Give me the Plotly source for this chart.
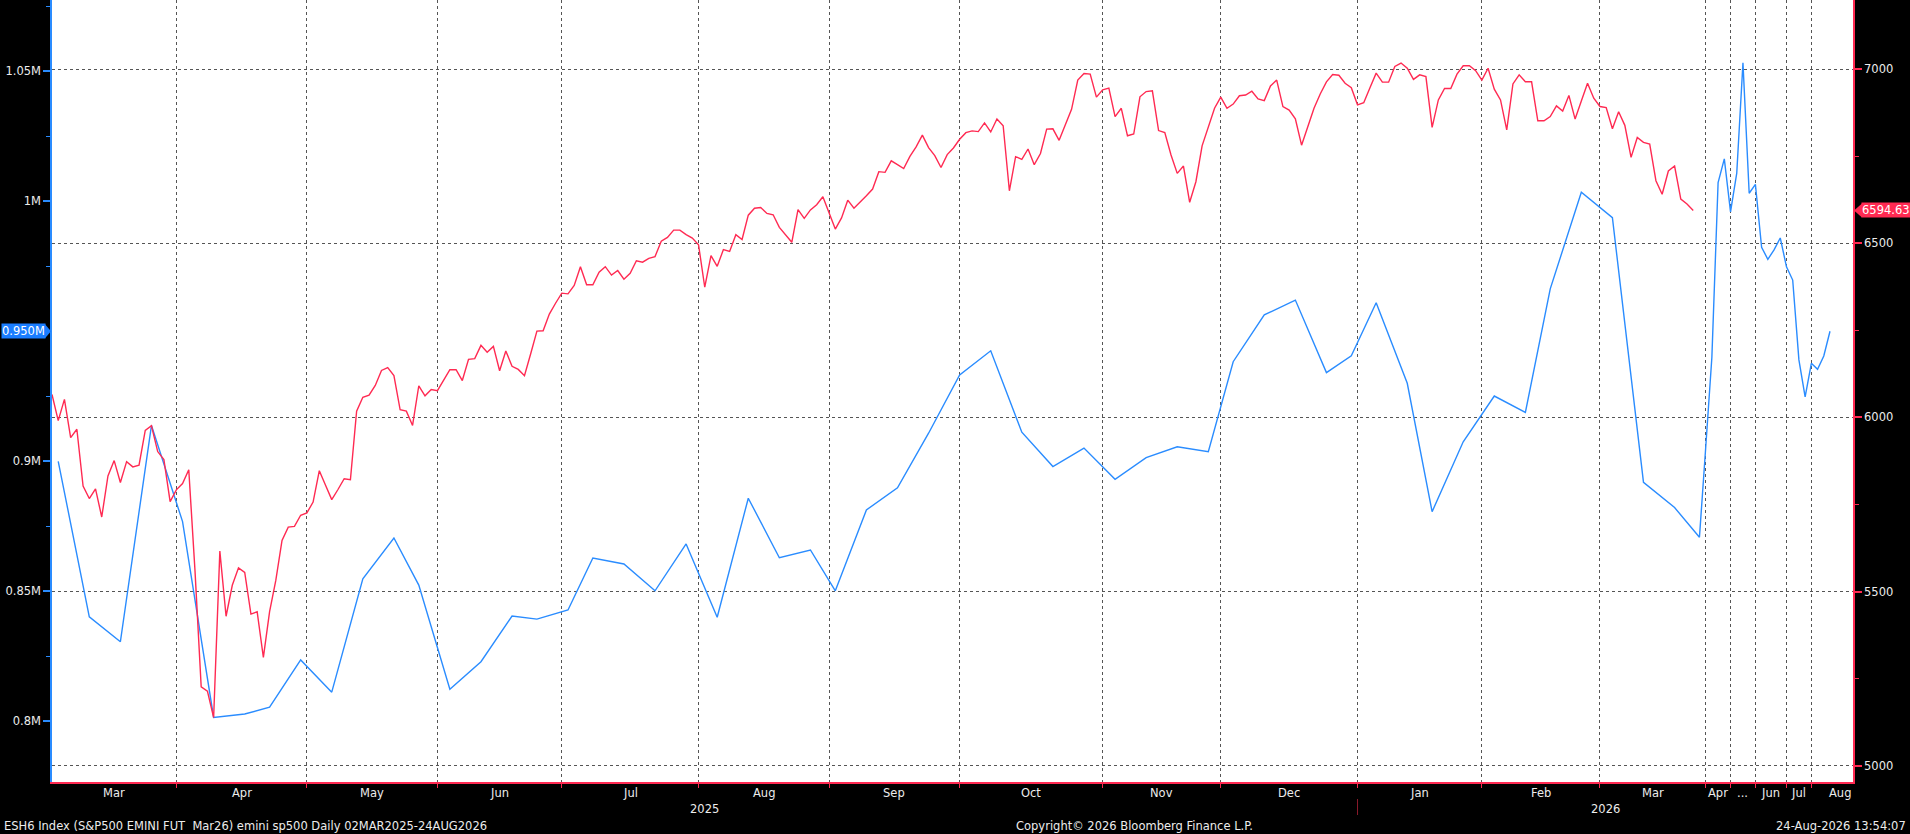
import plotly.graph_objects as go
import pandas as pd

# ---------------- data ----------------
holidays = ["2025-04-18", "2025-05-26", "2025-06-19", "2025-07-04", "2025-09-01",
            "2025-11-27", "2025-12-25", "2026-01-01", "2026-01-19", "2026-02-16"]
red_dates = [d.strftime("%Y-%m-%d") for d in pd.bdate_range("2025-03-03", "2026-03-20")
             if d.strftime("%Y-%m-%d") not in holidays]

red_values = [
    6066, 5991, 6052, 5942, 5966, 5803, 5767, 5795, 5714, 5832,
    5876, 5813, 5873, 5858, 5863, 5963, 5976, 5902, 5879, 5758,
    5792, 5810, 5850, 5560, 5226, 5214, 5138, 5616, 5429, 5518,
    5568, 5555, 5435, 5442, 5311, 5442, 5532, 5647, 5685, 5687,
    5719, 5726, 5757, 5847, 5805, 5764, 5793, 5824, 5821, 6018,
    6058, 6064, 6092, 6135, 6143, 6120, 6022, 6018, 5977, 6091,
    6062, 6080, 6077, 6108, 6137, 6137, 6106, 6167, 6169, 6207,
    6187, 6204, 6134, 6191, 6147, 6138, 6120, 6183, 6248, 6249,
    6297, 6328, 6357, 6355, 6379, 6433, 6381, 6381, 6417, 6433,
    6409, 6422, 6397, 6414, 6450, 6446, 6457, 6462, 6506, 6517,
    6538, 6538, 6525, 6515, 6496, 6374, 6465, 6434, 6482, 6477,
    6525, 6511, 6581, 6601, 6603, 6586, 6582, 6546, 6525, 6503,
    6597, 6572, 6596, 6611, 6634, 6589, 6541, 6573, 6624, 6601,
    6618, 6637, 6656, 6706, 6704, 6737, 6726, 6715, 6750, 6777,
    6811, 6775, 6752, 6718, 6755, 6774, 6799, 6818, 6823, 6821,
    6846, 6820, 6857, 6838, 6651, 6749, 6741, 6771, 6726, 6758,
    6828, 6829, 6796, 6838, 6885, 6969, 6988, 6986, 6920, 6941,
    6946, 6864, 6888, 6809, 6814, 6921, 6936, 6938, 6824, 6818,
    6754, 6701, 6722, 6618, 6677, 6780, 6833, 6888, 6920, 6888,
    6900, 6924, 6926, 6937, 6915, 6910, 6952, 6969, 6893, 6883,
    6858, 6782, 6835, 6888, 6929, 6964, 6985, 6983, 6960, 6947,
    6898, 6904, 6947, 6989, 6963, 6963, 7008, 7018, 7003, 6971,
    6984, 6979, 6833, 6912, 6945, 6945, 6986, 7010, 7010, 6996,
    6969, 7003, 6943, 6912, 6826, 6958, 6984, 6964, 6964, 6852,
    6852, 6864, 6895, 6880, 6925, 6857, 6909, 6960, 6917, 6893,
    6890, 6829, 6878, 6839, 6747, 6804, 6790, 6785, 6680, 6641,
    6708, 6722, 6627, 6613, 6594.63,
]

blue_dates = [d.strftime("%Y-%m-%d") for d in pd.date_range("2025-03-04", "2026-08-18", freq="7D")]
blue_values_m = [
    0.9000, 0.8402, 0.8306, 0.9138, 0.8768, 0.8015, 0.8028, 0.8054, 0.8236, 0.8112,
    0.8548, 0.8705, 0.8524, 0.8123, 0.8229, 0.8405, 0.8393, 0.8428, 0.8628, 0.8605,
    0.8502, 0.8682, 0.8400, 0.8858, 0.8629, 0.8659, 0.8502, 0.8813, 0.8898, 0.9108,
    0.9332, 0.9425, 0.9112, 0.8980, 0.9051, 0.8931, 0.9014, 0.9056, 0.9037, 0.9383,
    0.9563, 0.9620, 0.9341, 0.9406, 0.9610, 0.9300, 0.8806, 0.9075, 0.9251, 0.9188,
    0.9663, 1.0035, 0.9937, 0.8919, 0.8822, 0.8708, 0.9050, 0.9400, 1.0072, 1.0163,
    0.9959, 1.0108, 1.0533, 1.0031, 1.0065, 0.9823, 0.9777, 0.9813, 0.9859, 0.9748,
    0.9697, 0.9390, 0.9248, 0.9377, 0.9354, 0.9405, 0.9500,
]

month_labels = ["Mar", "Apr", "May", "Jun", "Jul", "Aug", "Sep", "Oct", "Nov", "Dec",
                "Jan", "Feb", "Mar", "Apr", "...", "Jun", "Jul", "Aug"]
year_labels = ["2025", "2026"]
left_tickvals = [0.8, 0.85, 0.9, 1.0, 1.05]
left_ticktext = ["0.8M", "0.85M", "0.9M", "1M", "1.05M"]
right_tickvals = [5000, 5500, 6000, 6500, 7000]

title_text = "ESH6 Index (S&P500 EMINI FUT\u00a0\u00a0Mar26) emini sp500 Daily 02MAR2025-24AUG2026"
copyright_text = "Copyright\u00a9 2026 Bloomberg Finance L.P."
stamp_text = "24-Aug-2026 13:54:07"

# ---------------- styling ----------------
W, H = 1910, 834
ML, MR, MT, MB = 52, 57, 0, 52
PW, PH = W - ML - MR, H - MT - MB
RED = "#ff2a52"
BLUE = "#2a8cff"
GRID = "#555555"
TXT = "#ececec"
FONT = "DejaVu Sans"
FS = 11.5
X_END = 289.7
Y1_RANGE = [0.77665, 1.07742]
Y2_RANGE = [4952.9, 7199.0]

# ---------------- categories / month structure ----------------
categories = red_dates + [d for d in blue_dates if d > red_dates[-1]]
months = [c[:7] for c in categories]
month_last = [i for i in range(len(categories))
              if i == len(categories) - 1 or months[i + 1] != months[i]]
tick_idx = month_last[:-1]
starts = [0] + tick_idx
ends = tick_idx + [X_END + 2.5]
years = [c[:4] for c in categories]
year_last = [i for i in range(len(categories))
             if i == len(categories) - 1 or years[i + 1] != years[i]]
ystarts = [0] + year_last[:-1]
yends = year_last[:-1] + [X_END]

fig = go.Figure()
fig.add_trace(go.Scatter(x=red_dates, y=red_values, yaxis="y2", mode="lines",
                         line=dict(color=RED, width=1.4), hoverinfo="skip"))
fig.add_trace(go.Scatter(x=blue_dates, y=blue_values_m, yaxis="y", mode="lines",
                         line=dict(color=BLUE, width=1.4), hoverinfo="skip"))

annotations = []
for lab, s, e in zip(month_labels, starts, ends):
    annotations.append(dict(text=lab, x=(s + e) / 2, xref="x", y=0, yref="paper",
                            yanchor="middle", yshift=-10.7, showarrow=False,
                            font=dict(family=FONT, size=FS, color=TXT)))
for lab, s, e in zip(year_labels, ystarts, yends):
    annotations.append(dict(text=lab, x=(s + e) / 2, xref="x", y=0, yref="paper",
                            yanchor="middle", yshift=-26.5, showarrow=False,
                            font=dict(family=FONT, size=FS, color=TXT)))
annotations.append(dict(text=title_text, x=(2 - ML) / PW, xref="paper", xanchor="left",
                        y=0, yref="paper", yanchor="middle", yshift=-43.7, showarrow=False,
                        font=dict(family=FONT, size=FS, color=TXT)))
annotations.append(dict(text=copyright_text, x=(1014 - ML) / PW, xref="paper", xanchor="left",
                        y=0, yref="paper", yanchor="middle", yshift=-43.7, showarrow=False,
                        font=dict(family=FONT, size=FS, color=TXT)))
annotations.append(dict(text=stamp_text, x=(1908 - ML) / PW, xref="paper", xanchor="right",
                        y=0, yref="paper", yanchor="middle", yshift=-43.7, showarrow=False,
                        font=dict(family=FONT, size=FS, color=TXT)))

# last-value boxes
last_red = red_values[-1]
last_blue = blue_values_m[-1]
annotations.append(dict(text=f"{last_red:.2f}", x=1, xref="paper", xanchor="left", xshift=8,
                        y=last_red, yref="y2", yanchor="middle", showarrow=False,
                        bgcolor=RED, borderpad=0,
                        font=dict(family=FONT, size=FS, color="#ffffff")))
annotations.append(dict(text=f"{last_blue:.3f}M", x=0, xref="paper", xanchor="right", xshift=-6,
                        y=last_blue, yref="y", yanchor="middle", showarrow=False,
                        bgcolor="#1a7dff", borderpad=0,
                        font=dict(family=FONT, size=FS, color="#ffffff")))

h2 = 7 * (Y2_RANGE[1] - Y2_RANGE[0]) / PH
h1 = 7 * (Y1_RANGE[1] - Y1_RANGE[0]) / PH
px = 1.0 / PW
shapes = [
    dict(type="path", xref="paper", yref="y2",
         path=f"M {1 + 1 * px},{last_red} L {1 + 9 * px},{last_red + h2} L {1 + 9 * px},{last_red - h2} Z",
         fillcolor=RED, line=dict(width=0)),
    dict(type="path", xref="paper", yref="y",
         path=f"M {0 - 1 * px},{last_blue} L {0 - 7 * px},{last_blue + h1} L {0 - 7 * px},{last_blue - h1} Z",
         fillcolor="#1a7dff", line=dict(width=0)),
    dict(type="line", xref="x", yref="paper", x0=year_last[0], x1=year_last[0],
         y0=-17 / PH, y1=-33 / PH, line=dict(color="#8b1a2b", width=1)),
]

fig.update_layout(
    width=W, height=H,
    margin=dict(l=ML, r=MR, t=MT, b=MB, pad=0),
    paper_bgcolor="#000000", plot_bgcolor="#ffffff",
    showlegend=False,
    font=dict(family=FONT, size=FS, color=TXT),
    xaxis=dict(type="category", categoryorder="array", categoryarray=categories,
               range=[0, X_END], tickmode="array", tickvals=[categories[i] for i in tick_idx],
               showticklabels=False, ticks="outside", ticklen=4, tickwidth=1, tickcolor=RED,
               showgrid=True, gridcolor=GRID, griddash="dot", gridwidth=1,
               showline=True, linecolor=RED, linewidth=1.5, zeroline=False, fixedrange=True),
    yaxis=dict(range=Y1_RANGE, side="left", tickmode="array", tickvals=left_tickvals,
               ticktext=left_ticktext, showgrid=False, zeroline=False,
               showline=True, linecolor=BLUE, linewidth=1.5,
               ticks="outside", ticklen=7, tickwidth=2, tickcolor=BLUE,
               minor=dict(dtick=0.025, tick0=0.8, ticks="outside", ticklen=4, tickwidth=1,
                          tickcolor=BLUE, showgrid=False),
               tickfont=dict(family=FONT, size=FS, color=TXT), fixedrange=True),
    yaxis2=dict(range=Y2_RANGE, side="right", overlaying="y", tickmode="array",
                tickvals=right_tickvals, showgrid=True, gridcolor=GRID, griddash="dot",
                gridwidth=1, zeroline=False, showline=True, linecolor=RED, linewidth=1.5,
                ticks="outside", ticklen=7, tickwidth=2, tickcolor=RED,
                minor=dict(dtick=250, tick0=5000, ticks="outside", ticklen=4, tickwidth=1,
                           tickcolor=RED, showgrid=False),
                tickfont=dict(family=FONT, size=FS, color=TXT), fixedrange=True),
    annotations=annotations,
    shapes=shapes,
)

fig.write_html("out.html", config={"displayModeBar": False},
               post_script="document.body.style.margin='0px';document.body.style.overflow='hidden';")
